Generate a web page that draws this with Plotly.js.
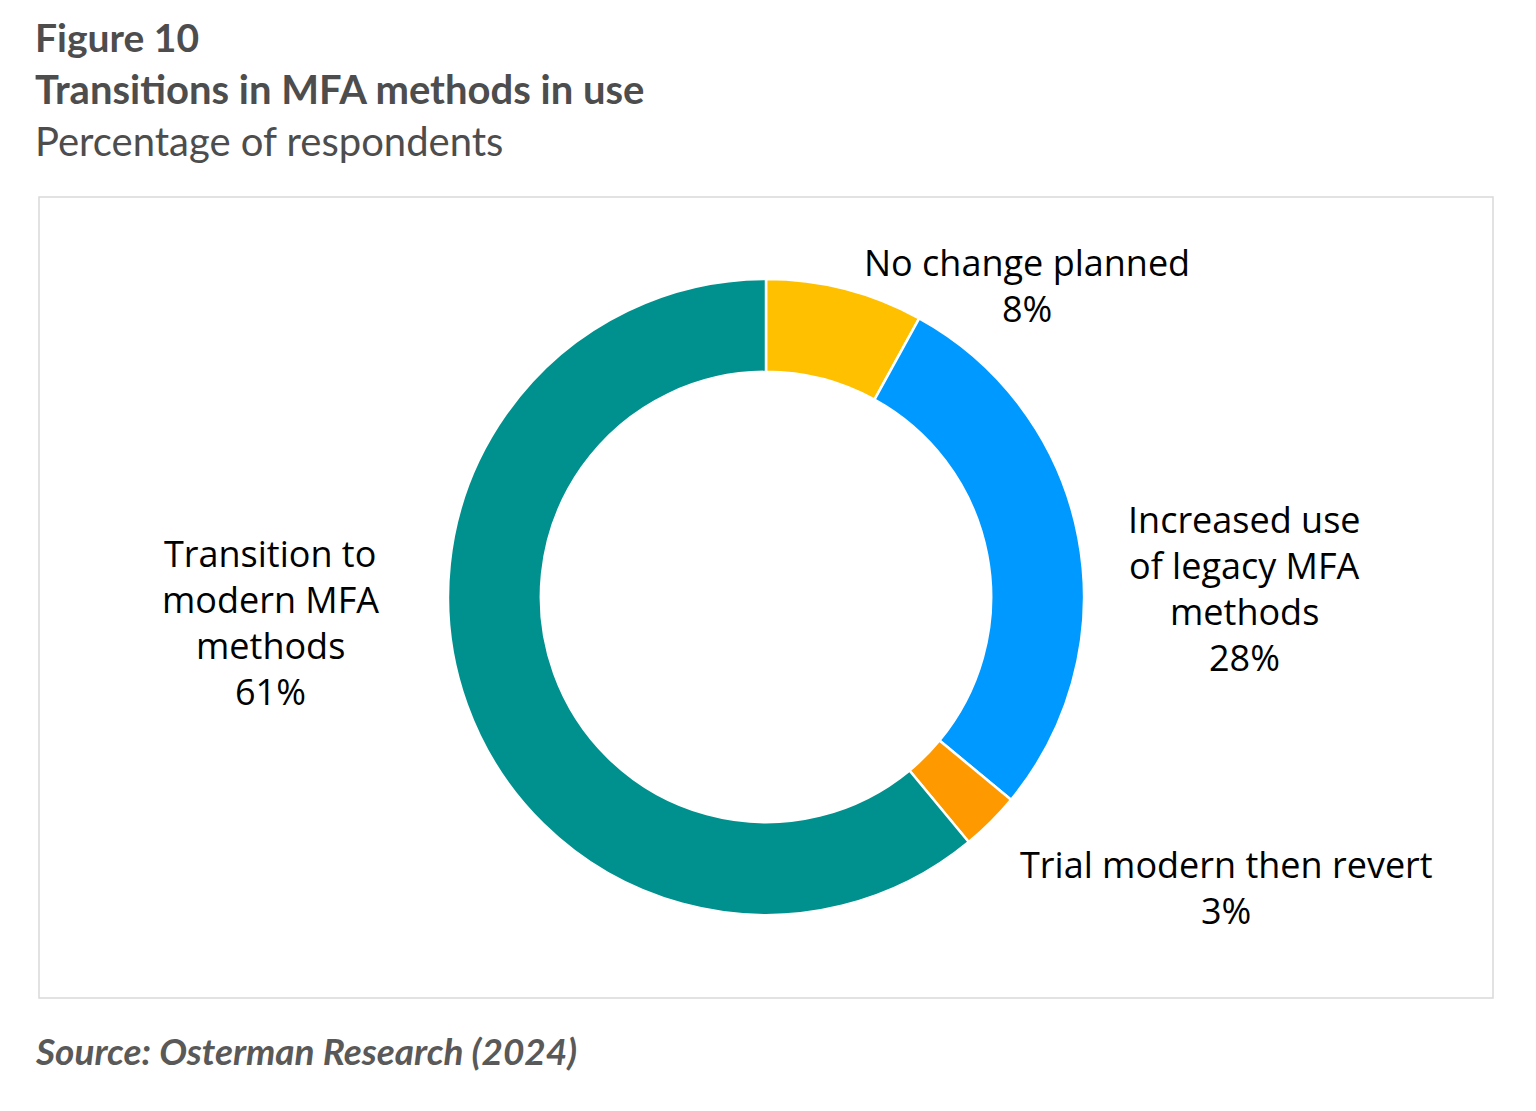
<!DOCTYPE html>
<html>
<head>
<meta charset="utf-8">
<script src="https://cdn.plot.ly/plotly-3.0.1.min.js"></script>
<style>html,body{margin:0;padding:0;background:#fff;}#chart{width:1536px;height:1111px;}</style>
</head>
<body>
<div id="chart"></div>
<script>
// ---- data ----
const categories = ["No change planned", "Increased use<br>of legacy MFA<br>methods", "Trial modern then revert", "Transition to<br>modern MFA<br>methods"];
const values = [8, 28, 3, 61];
const sliceColors = ["#FFC000", "#0099FF", "#FF9900", "#00918E"];
const figureLabel = "Figure 10";
const titleText = "Transitions in MFA methods in use";
const subtitleText = "Percentage of respondents";
const sourceText = "Source: Osterman Research (2024)";

// ---- layout helpers (positions in px) ----
const W = 1536, H = 1111;
const px = x => x / W;
const py = y => 1 - y / H;
const cx = 766, cy = 597, R = 318;
// label anchor centres (first line centre), per slice
const labelPos = [[1027, 262], [1244, 519], [1226, 864], [270, 553]];
const lineGap = 46;
const labelFont = {family: "Open Sans, Noto Sans, sans-serif", size: 36, color: "#000"};

const annotations = [];
categories.forEach((c, i) => {
  const lines = c.split("<br>").concat([values[i] + "%"]);
  lines.forEach((t, j) => {
    annotations.push({
      xref: "paper", yref: "paper", x: px(labelPos[i][0]), y: py(labelPos[i][1] + j * lineGap),
      xanchor: "center", yanchor: "middle", showarrow: false, text: t, font: labelFont
    });
  });
});
const headFont = "Lato, Carlito, sans-serif";
annotations.push({xref: "paper", yref: "paper", x: px(33), y: py(37), xanchor: "left", yanchor: "middle", showarrow: false,
  text: "<b>" + figureLabel + "</b>", font: {family: headFont, size: 39, color: "#4d4d4d"}});
annotations.push({xref: "paper", yref: "paper", x: px(33), y: py(89), xanchor: "left", yanchor: "middle", showarrow: false,
  text: "<b>" + titleText + "</b>", font: {family: headFont, size: 40, color: "#4d4d4d"}});
annotations.push({xref: "paper", yref: "paper", x: px(33), y: py(141), xanchor: "left", yanchor: "middle", showarrow: false,
  text: subtitleText, font: {family: headFont, size: 40, color: "#4d4d4d"}});
annotations.push({xref: "paper", yref: "paper", x: px(33), y: py(1050), xanchor: "left", yanchor: "middle", showarrow: false,
  text: "<b><i>" + sourceText + "</i></b>", font: {family: headFont, size: 37, color: "#595959"}});

const trace = {
  type: "pie",
  labels: categories.map(c => c.replace(/<br>/g, " ")),
  values: values,
  hole: 0.708,
  sort: false,
  direction: "clockwise",
  rotation: 0,
  marker: {colors: sliceColors, line: {color: "#ffffff", width: 2.5}},
  textinfo: "none",
  hoverinfo: "label+percent",
  domain: {x: [px(cx - R), px(cx + R)], y: [py(cy + R), py(cy - R)]},
  showlegend: false
};

const layout = {
  width: W, height: H,
  margin: {l: 0, r: 0, t: 0, b: 0},
  paper_bgcolor: "#ffffff",
  showlegend: false,
  annotations: annotations,
  shapes: [{type: "rect", xref: "paper", yref: "paper", x0: px(39), x1: px(1493), y0: py(998), y1: py(197),
    line: {color: "#d9d9d9", width: 1.5}, fillcolor: "rgba(0,0,0,0)", layer: "below"}]
};

Plotly.newPlot("chart", [trace], layout, {displayModeBar: false, staticPlot: true});
</script>
</body>
</html>
